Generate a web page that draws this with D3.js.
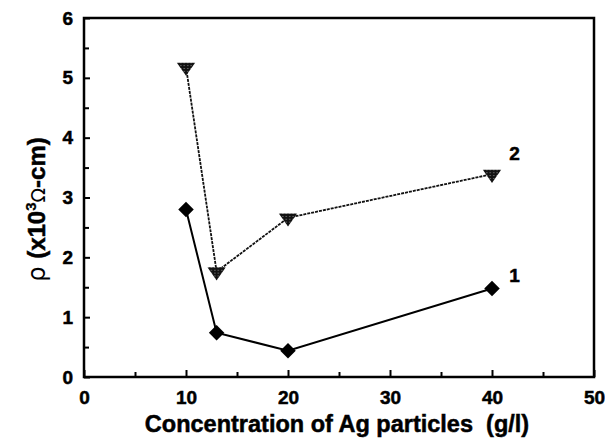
<!DOCTYPE html>
<html>
<head>
<meta charset="utf-8">
<script src="https://cdn.jsdelivr.net/npm/d3@7"></script>
<style>
  html, body { margin: 0; padding: 0; background: #fff; }
  svg { display: block; }
  text { font-family: "Liberation Sans", Arial, sans-serif; fill: #000; }
</style>
</head>
<body>
<svg id="chart" width="605" height="438"></svg>
<script>
// Resistivity vs. Ag particle concentration
const concentration = [10, 13, 20, 40];
const series1 = [2.8, 0.74, 0.44, 1.48];
const series2 = [5.18, 1.76, 2.66, 3.39];
const xTicks = [0, 10, 20, 30, 40, 50];
const yTicks = [0, 1, 2, 3, 4, 5, 6];
const seriesLabels = ["1", "2"];

const svg = d3.select("#chart");
const margin = { left: 84, right: 11, top: 18, bottom: 61 };
const W = 605, H = 438;

const x = d3.scaleLinear().domain([0, 50]).range([margin.left, W - margin.right]);
const y = d3.scaleLinear().domain([0, 6]).range([H - margin.bottom, margin.top]);

// minor ticks (inward)
const xMinor = d3.range(5, 50, 10);
const yMinor = d3.range(0.5, 6, 1);

const axisG = svg.append("g");
const boldText = sel => sel.attr("font-size", 19).attr("font-weight", "bold")
  .attr("fill", "#000").attr("stroke", "#000").attr("stroke-width", 0.5);

// bottom axis: inward ticks, labels below
const xAxis = d3.axisBottom(x).tickValues(xTicks).tickSize(-7).tickPadding(14).tickFormat(d3.format("d"));
const gx = axisG.append("g").attr("transform", `translate(0,${y(0)})`).call(xAxis);
gx.select(".domain").remove();
gx.selectAll(".tick line").attr("stroke", "#000").attr("stroke-width", 2);
gx.selectAll(".tick text").call(boldText);

const xAxisMinor = d3.axisBottom(x).tickValues(xMinor).tickSize(-5).tickFormat("");
const gxm = axisG.append("g").attr("transform", `translate(0,${y(0)})`).call(xAxisMinor);
gxm.select(".domain").remove();
gxm.selectAll(".tick line").attr("stroke", "#000").attr("stroke-width", 2);

// left axis
const yAxis = d3.axisLeft(y).tickValues(yTicks).tickSize(-6).tickPadding(11).tickFormat(d3.format("d"));
const gy = axisG.append("g").attr("transform", `translate(${x(0)},0)`).call(yAxis);
gy.select(".domain").remove();
gy.selectAll(".tick line").attr("stroke", "#000").attr("stroke-width", 2);
gy.selectAll(".tick text").call(boldText);

const yAxisMinor = d3.axisLeft(y).tickValues(yMinor).tickSize(-5).tickFormat("");
const gym = axisG.append("g").attr("transform", `translate(${x(0)},0)`).call(yAxisMinor);
gym.select(".domain").remove();
gym.selectAll(".tick line").attr("stroke", "#000").attr("stroke-width", 2);

// frame
svg.append("rect")
  .attr("x", x(0)).attr("y", y(6))
  .attr("width", x(50) - x(0)).attr("height", y(0) - y(6))
  .attr("fill", "none").attr("stroke", "#000").attr("stroke-width", 2.5);

// stipple pattern for the triangle markers
const defs = svg.append("defs");
const pat = defs.append("pattern").attr("id", "stipple")
  .attr("width", 3).attr("height", 3).attr("patternUnits", "userSpaceOnUse");
pat.append("rect").attr("width", 3).attr("height", 3).attr("fill", "#111");
pat.append("rect").attr("x", 1).attr("y", 1).attr("width", 1).attr("height", 1).attr("fill", "#888");

const line = d3.line().x(d => x(d[0])).y(d => y(d[1]));
const pts1 = concentration.map((c, i) => [c, series1[i]]);
const pts2 = concentration.map((c, i) => [c, series2[i]]);

// series 2: fine dashed line
svg.append("path").datum(pts2).attr("d", line)
  .attr("fill", "none").attr("stroke", "#111").attr("stroke-width", 1.8)
  .attr("stroke-dasharray", "3,1");

// series 1: solid line
svg.append("path").datum(pts1).attr("d", line)
  .attr("fill", "none").attr("stroke", "#000").attr("stroke-width", 2);

// diamonds
const diamond = d3.symbol().type(d3.symbolSquare).size(120);
svg.selectAll(".d1").data(pts1).enter().append("path")
  .attr("d", diamond)
  .attr("transform", d => `translate(${x(d[0])},${y(d[1])}) rotate(45)`)
  .attr("fill", "#000");

// down-pointing triangles
const tri = d3.symbol().type(d3.symbolTriangle).size(110);
svg.selectAll(".t2").data(pts2).enter().append("path")
  .attr("d", tri)
  .attr("transform", d => `translate(${x(d[0])},${y(d[1])}) rotate(180) scale(1.15,0.95)`)
  .attr("fill", "url(#stipple)");

// series labels
svg.append("text").attr("x", x(41.7)).attr("y", y(1.48) - 6)
  .attr("font-size", 19).attr("font-weight", "bold").attr("stroke", "#000").attr("stroke-width", 0.5)
  .text(seriesLabels[0]);
svg.append("text").attr("x", x(41.7)).attr("y", y(3.39) - 14)
  .attr("font-size", 19).attr("font-weight", "bold").attr("stroke", "#000").attr("stroke-width", 0.5)
  .text(seriesLabels[1]);

// axis titles
svg.append("text").attr("x", (x(0) + x(50)) / 2 - 2).attr("y", 432)
  .attr("text-anchor", "middle").attr("font-size", 23.5).attr("font-weight", "bold")
  .attr("stroke", "#000").attr("stroke-width", 0.5)
  .text("Concentration of Ag particles\u00a0\u00a0(g/l)");

const yt = svg.append("text")
  .attr("transform", `translate(45,${(y(0) + y(6)) / 2 + 12}) rotate(-90)`)
  .attr("text-anchor", "middle").attr("font-size", 24).attr("font-weight", "bold");
yt.append("tspan").attr("font-weight", "normal").attr("font-family", "'DejaVu Sans', sans-serif").text("ρ\u00a0");
yt.append("tspan").attr("stroke", "#000").attr("stroke-width", 0.5).text("(x10");
yt.append("tspan").attr("font-size", 15).attr("dy", -9).attr("stroke", "#000").attr("stroke-width", 0.3).text("3");
yt.append("tspan").attr("dy", 9).attr("font-weight", "normal").attr("font-family", "'DejaVu Sans', sans-serif").attr("font-size", 19).text("Ω");
yt.append("tspan").attr("stroke", "#000").attr("stroke-width", 0.5).text("-cm)");
</script>
</body>
</html>
